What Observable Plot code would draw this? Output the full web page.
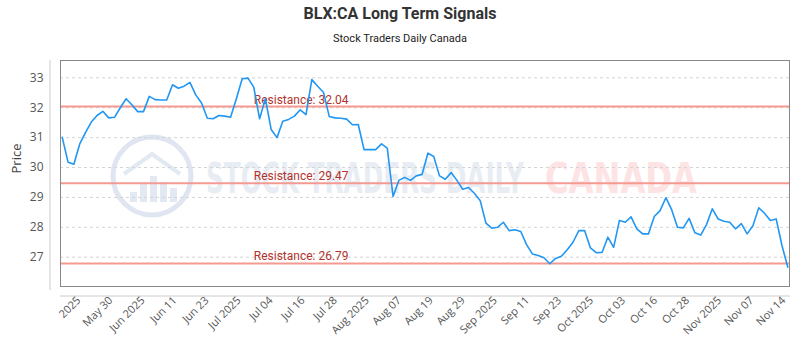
<!DOCTYPE html>
<html>
<head>
<meta charset="utf-8">
<script src="https://cdn.jsdelivr.net/npm/d3@7"></script>
<script src="https://cdn.jsdelivr.net/npm/@observablehq/plot@0.6"></script>
<style>
  html, body { margin: 0; padding: 0; background: #fff; }
  #wrap { position: relative; width: 800px; height: 350px; overflow: hidden; }
  #title { position: absolute; left: 0; top: 4px; width: 800px; text-align: center;
    font-family: Roboto, "Open Sans", sans-serif; font-weight: 700; font-size: 16px; color: #333; }
  #subtitle { position: absolute; left: 0; top: 32px; width: 800px; text-align: center;
    font-family: Roboto, "Open Sans", sans-serif; font-size: 11px; color: #222; }
  #chart { position: absolute; left: 0; top: 0; }
</style>
</head>
<body>
<div id="wrap">
  <div id="chart"></div>
  <div id="title">BLX:CA Long Term Signals</div>
  <div id="subtitle">Stock Traders Daily Canada</div>
</div>
<script>
// Daily closing prices (trading days, left to right)
const prices = [
  31.01, 30.18, 30.11, 30.78, 31.17, 31.52, 31.74, 31.88, 31.66, 31.68,
  32.00, 32.30, 32.10, 31.87, 31.87, 32.38, 32.27, 32.26, 32.26, 32.77,
  32.65, 32.72, 32.85, 32.43, 32.16, 31.65, 31.63, 31.74, 31.72, 31.68,
  32.30, 32.97, 32.99, 32.69, 31.63, 32.30, 31.27, 31.00, 31.55, 31.61,
  31.72, 31.93, 31.77, 32.94, 32.72, 32.52, 31.71, 31.66, 31.65, 31.62,
  31.43, 31.44, 30.60, 30.60, 30.60, 30.79, 30.65, 29.03, 29.57, 29.67,
  29.57, 29.72, 29.77, 30.48, 30.37, 29.72, 29.61, 29.83, 29.57, 29.27,
  29.33, 29.14, 28.90, 28.14, 27.97, 28.00, 28.17, 27.89, 27.92, 27.86,
  27.42, 27.11, 27.06, 26.98, 26.78, 26.96, 27.03, 27.25, 27.50, 27.89,
  27.89, 27.31, 27.15, 27.16, 27.67, 27.33, 28.23, 28.17, 28.35, 27.95,
  27.78, 27.78, 28.36, 28.56, 28.99, 28.59, 28.00, 27.98, 28.30, 27.82,
  27.74, 28.09, 28.62, 28.28, 28.20, 28.17, 27.95, 28.12, 27.78, 28.05,
  28.65, 28.47, 28.23, 28.28, 27.39, 26.67
];

// Resistance levels
const resistance = [32.04, 29.47, 26.79];
const resistanceLabels = resistance.map(v => "Resistance: " + v.toFixed(2));
const labelAtIndex = 33; // trading day where the level labels sit

// X axis tick labels (evenly spaced along the trading-day axis)
const tickLabels = [
  "2025", "May 30", "Jun 2025", "Jun 11", "Jun 23", "Jul 2025", "Jul 04",
  "Jul 16", "Jul 28", "Aug 2025", "Aug 07", "Aug 19", "Aug 29", "Sep 2025",
  "Sep 11", "Sep 23", "Oct 2025", "Oct 03", "Oct 16", "Oct 28", "Nov 2025",
  "Nov 07", "Nov 14"
];
const tickStart = 2.85;     // trading-day index of the first label
const tickStep = 5.52;      // trading days between labels
const yTicks = [27, 28, 29, 30, 31, 32, 33];

const tickPos = tickLabels.map((_, k) => tickStart + k * tickStep);
const tickMap = new Map(tickPos.map((p, k) => [p, tickLabels[k]]));

const data = prices.map((p, i) => ({i, p}));
const resData = resistance.map((v, k) => ({v, label: resistanceLabels[k]}));

// decoration: offset axis lines and watermark
function decor(index, scales, values, dim) {
  const {width, height, marginLeft, marginRight, marginTop, marginBottom} = dim;
  const g = d3.create("svg:g");
  const x0 = marginLeft, x1 = width - marginRight, y0 = marginTop, y1 = height - marginBottom;
  // watermark logo
  const cx = x0 + 92, cy = y0 + 116, r = 39;
  const wm = g.append("g");
  wm.append("circle").attr("cx", cx).attr("cy", cy).attr("r", r)
    .attr("fill", "none").attr("stroke", "#dfe6f1").attr("stroke-width", 5);
  const bars = [[-22, 10], [-12, 18], [-2, 26], [8, 20], [18, 14]];
  bars.forEach(([dx, h]) => wm.append("rect").attr("x", cx + dx).attr("y", cy + 26 - h)
    .attr("width", 7).attr("height", h).attr("fill", "#e3e9f3"));
  wm.append("polyline").attr("points", `${cx-28},${cy-2} ${cx},${cy-22} ${cx+28},${cy-2}`)
    .attr("fill", "none").attr("stroke", "#e3e9f3").attr("stroke-width", 4);
  wm.append("text").attr("x", x0 + 146).attr("y", y0 + 133)
    .attr("text-anchor", "start")
    .attr("font-family", "'Liberation Sans Narrow', 'DejaVu Sans Condensed', sans-serif")
    .attr("font-size", 43).attr("font-weight", 600).attr("fill", "#e8edf4")
    .attr("textLength", 318).attr("lengthAdjust", "spacingAndGlyphs")
    .text("STOCK TRADERS DAILY");
  wm.append("text").attr("x", x0 + 485).attr("y", y0 + 133)
    .attr("text-anchor", "start")
    .attr("font-family", "'Liberation Sans Narrow', 'DejaVu Sans Condensed', sans-serif")
    .attr("font-size", 43).attr("font-weight", 600).attr("fill", "#fde3e3")
    .attr("textLength", 152).attr("lengthAdjust", "spacingAndGlyphs")
    .text("CANADA");
  // offset axis lines
  g.append("line").attr("x1", x0 - 10).attr("x2", x0 - 10).attr("y1", y0).attr("y2", y1 + 4)
    .attr("stroke", "#ccc");
  g.append("line").attr("x1", x0).attr("x2", x1 + 1).attr("y1", y1 + 10).attr("y2", y1 + 10)
    .attr("stroke", "#ccc");
  return g.node();
}

const chart = Plot.plot({
  width: 800,
  height: 350,
  marginLeft: 60,
  marginRight: 11,
  marginTop: 60,
  marginBottom: 64,
  style: {fontFamily: "'Open Sans', sans-serif", background: "transparent"},
  x: {type: "linear", domain: [-0.3, 125.3]},
  y: {domain: [26.02, 33.58]},
  marks: [
    decor,
    Plot.gridY(yTicks, {stroke: "#d4d4d4", strokeOpacity: 1, strokeDasharray: "3,3"}),
    Plot.ruleY(resData, {y: "v", stroke: "#f49a92", strokeWidth: 2}),
    Plot.text(resData, {x: () => labelAtIndex, y: "v", text: "label", textAnchor: "start",
      lineAnchor: "bottom", dy: -3, fill: "#b0332b", fontSize: 12,
      fontFamily: "Roboto, sans-serif"}),
    Plot.line(data, {x: "i", y: "p", stroke: "#2196f3", strokeWidth: 1.6}),
    Plot.frame({stroke: "#888"}),
    Plot.axisY(yTicks, {tickSize: 0, tickPadding: 17, fontSize: 12, fill: "#555", label: null}),
    Plot.axisX(tickPos, {tickSize: 0, tickPadding: 12, tickRotate: -45, fontSize: 11, fill: "#555",
      tickFormat: d => tickMap.get(d), label: null}),
    Plot.text(["Price"], {frameAnchor: "left", dx: -44, rotate: -90, fontSize: 13, fill: "#444"})
  ]
});
document.getElementById("chart").appendChild(chart);
</script>
</body>
</html>
